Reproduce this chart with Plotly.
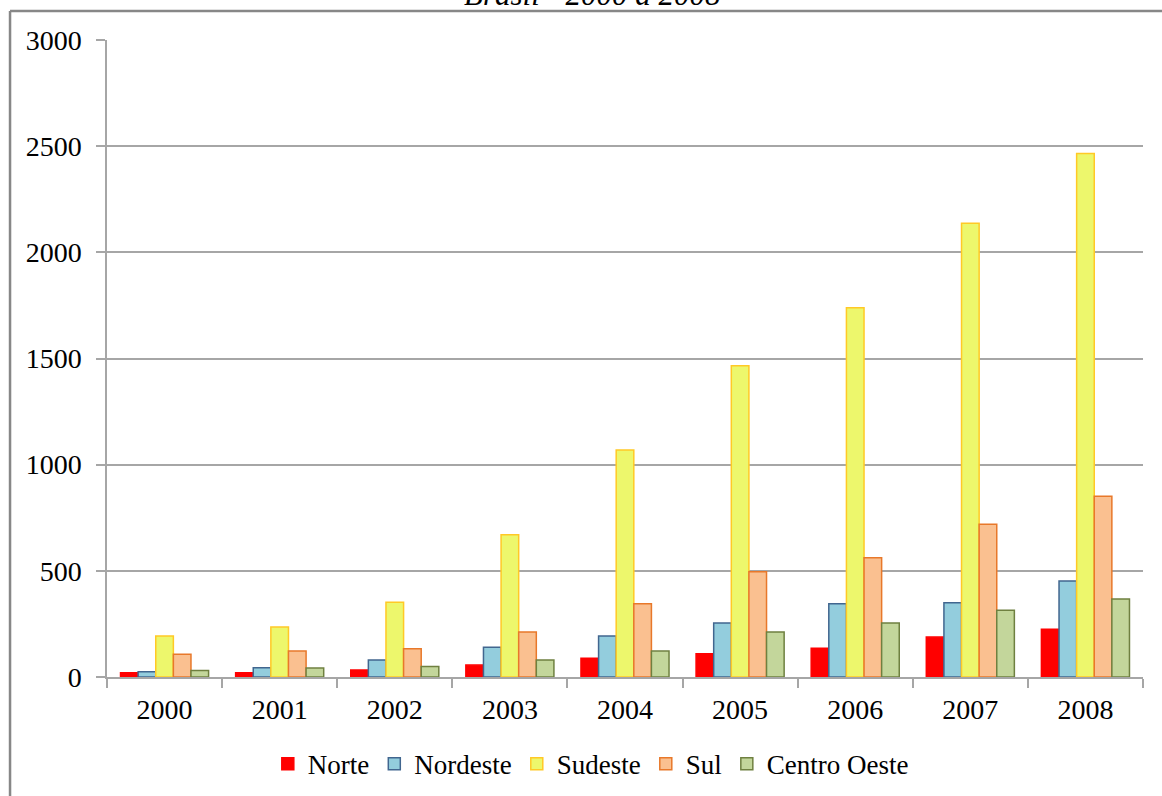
import plotly.graph_objects as go

# Regional totals per year, Brasil 2000-2008
years = ["2000", "2001", "2002", "2003", "2004", "2005", "2006", "2007", "2008"]
norte = [20, 20, 33, 56, 88, 110, 135, 188, 225]
nordeste = [25, 44, 80, 140, 193, 254, 345, 350, 452]
sudeste = [193, 235, 352, 670, 1069, 1466, 1739, 2137, 2465]
sul = [107, 122, 133, 212, 345, 496, 562, 719, 851]
centro_oeste = [31, 42, 49, 80, 122, 212, 254, 314, 367]

series = [
    ("Norte", norte, "#FF0000", "#FF0000"),
    ("Nordeste", nordeste, "#93CDDD", "#41668F"),
    ("Sudeste", sudeste, "#EDF76C", "#FFC926"),
    ("Sul", sul, "#FAC090", "#E8782A"),
    ("Centro Oeste", centro_oeste, "#C3D69B", "#6F8040"),
]

serif = "Liberation Serif, Times New Roman, serif"

fig = go.Figure()
for name, vals, fill, edge in series:
    fig.add_trace(go.Bar(
        x=years, y=vals, name=name,
        marker=dict(color=fill, line=dict(color=edge, width=1.5)),
    ))

fig.update_layout(
    width=1162, height=796,
    margin=dict(l=107, r=19, t=40, b=119, autoexpand=False),
    paper_bgcolor="white", plot_bgcolor="white",
    barmode="group", bargap=0.235, bargroupgap=0,
    font=dict(family=serif, size=28, color="black"),
    showlegend=True,
    legend=dict(
        orientation="h", x=0.467, xanchor="center", y=-0.137, yanchor="middle",
        font=dict(family=serif, size=27), itemwidth=30, tracegroupgap=0,
        traceorder="normal",
    ),
    xaxis=dict(
        type="category", showgrid=False, showline=True, linecolor="#A6A6A6", linewidth=1.5,
        ticks="outside", tickson="boundaries", ticklen=9, tickcolor="#A6A6A6", tickwidth=1.5,
        tickfont=dict(family=serif, size=28), ticklabelstandoff=7, automargin=False,
    ),
    yaxis=dict(
        range=[0, 3000], dtick=500, showgrid=True, gridcolor="#A6A6A6", gridwidth=1.5,
        showline=True, linecolor="#A6A6A6", linewidth=1.5,
        ticks="outside", ticklen=9, tickcolor="#A6A6A6", tickwidth=1.5,
        tickfont=dict(family=serif, size=28), ticklabelstandoff=9,
        zeroline=False, automargin=False,
    ),
    shapes=[
        dict(type="line", xref="paper", yref="paper", x0=-0.0936, x1=-0.0936,
             y0=1.0455, y1=-0.2, line=dict(color="#878787", width=2.5)),
        dict(type="line", xref="paper", yref="paper", x0=-0.0936, x1=1.05,
             y0=1.0455, y1=1.0455, line=dict(color="#878787", width=2.5)),
    ],
    annotations=[
        dict(text="<i>Brasil - 2000 a 2008</i>", xref="paper", yref="paper",
             x=0.469, y=1.041, xanchor="center", yanchor="bottom", showarrow=False,
             font=dict(family=serif, size=31, color="black")),
    ],
)

fig.write_html("out.html")
